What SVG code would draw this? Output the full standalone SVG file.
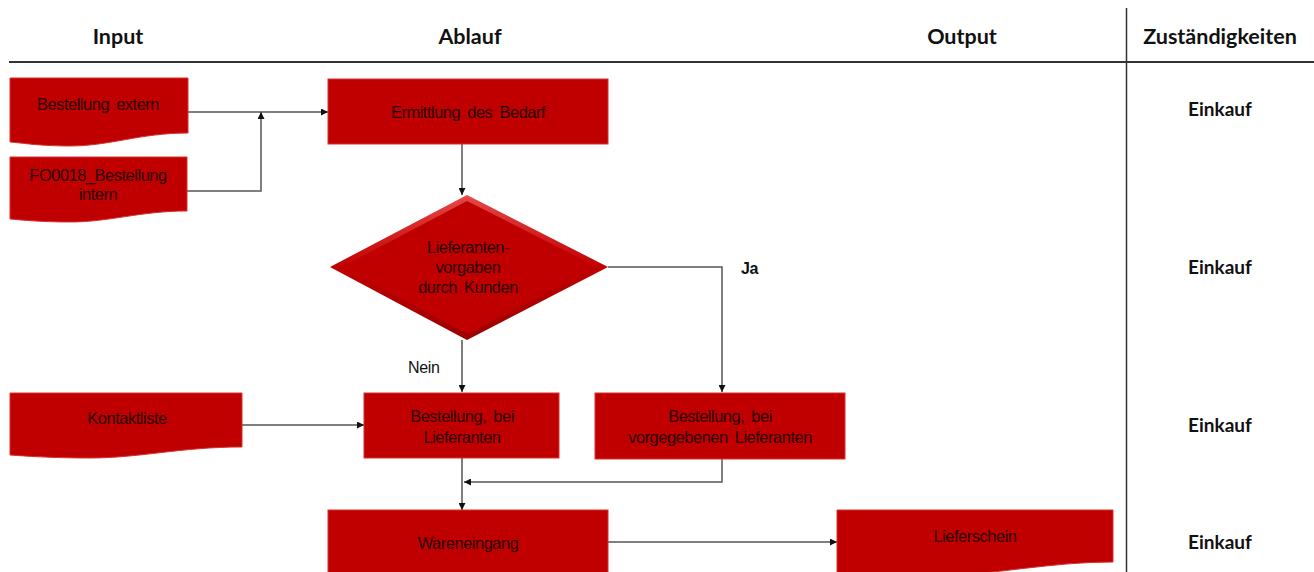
<svg xmlns="http://www.w3.org/2000/svg" width="1314" height="572" viewBox="0 0 1314 572">
  <defs>
    <style>
      .hdr { font-family: Lato, "Liberation Sans", sans-serif; font-weight: bold; font-size: 21.5px; fill: #111; text-anchor: middle; }
      .role { font-family: Lato, "Liberation Sans", sans-serif; font-weight: bold; font-size: 19px; fill: #111; text-anchor: middle; }
      .lbl { font-family: "Liberation Sans", Arial, sans-serif; font-size: 16.5px; fill: #2a0000; text-anchor: middle; letter-spacing: -0.5px; word-spacing: 3px; }
      .cl { font-family: "Liberation Sans", Arial, sans-serif; font-size: 16px; fill: #111; letter-spacing: -0.3px; }
      .box { fill: #C00000; stroke: #D83030; stroke-width: 1; }
      .doc { fill: #C00000; stroke: #D83030; stroke-width: 1; }
      .edge { fill: none; stroke: #555; stroke-width: 1.5; }
      .rule { stroke: #333; stroke-width: 2; fill: none; }
    </style>
    <marker id="arrow" viewBox="0 0 10 10" refX="10" refY="5" markerWidth="7" markerHeight="7" orient="auto" markerUnits="userSpaceOnUse">
      <path d="M0,0 L10,5 L0,10 Z" fill="#111"/>
    </marker>
    <linearGradient id="bevel" x1="0" y1="0" x2="0" y2="1">
      <stop offset="0" stop-color="#E84848"/>
      <stop offset="0.5" stop-color="#C00000"/>
      <stop offset="1" stop-color="#9A0000"/>
    </linearGradient>
  </defs>

  <!-- table frame -->
  <g id="frame">
    <line class="rule" x1="9" y1="62" x2="1314" y2="62"/>
    <line x1="1126.5" y1="8" x2="1126.5" y2="572" stroke="#333" stroke-width="1.5"/>
    <text class="hdr" x="118" y="44">Input</text>
    <text class="hdr" x="470" y="44">Ablauf</text>
    <text class="hdr" x="962" y="44">Output</text>
    <text class="hdr" x="1220" y="44">Zuständigkeiten</text>
  </g>

  <!-- responsibilities column -->
  <g id="roles">
    <text class="role" x="1220" y="116">Einkauf</text>
    <text class="role" x="1220" y="274">Einkauf</text>
    <text class="role" x="1220" y="432">Einkauf</text>
    <text class="role" x="1220" y="549">Einkauf</text>
  </g>

  <!-- connectors -->
  <g id="connectors">
    <line class="edge" x1="188" y1="112" x2="328" y2="112" marker-end="url(#arrow)"/>
    <polyline class="edge" points="187,191 261,191 261,112" marker-end="url(#arrow)"/>
    <line class="edge" x1="462" y1="144" x2="462" y2="195" marker-end="url(#arrow)"/>
    <polyline class="edge" points="608,267 722,267 722,392" marker-end="url(#arrow)"/>
    <line class="edge" x1="462" y1="340" x2="462" y2="392" marker-end="url(#arrow)"/>
    <line class="edge" x1="242" y1="425" x2="364" y2="425" marker-end="url(#arrow)"/>
    <polyline class="edge" points="722,459 722,482 464,482" marker-end="url(#arrow)"/>
    <line class="edge" x1="462" y1="458" x2="462" y2="510" marker-end="url(#arrow)"/>
    <line class="edge" x1="608" y1="542" x2="837" y2="542" marker-end="url(#arrow)"/>
    <text class="cl" x="741" y="274" font-weight="bold">Ja</text>
    <text class="cl" x="408" y="373">Nein</text>
  </g>

  <!-- input documents -->
  <g id="bestellung-extern">
    <path class="doc" d="M10,78 H188 V133 C140,133 110,146 70,146 C40,146 22,143 10,142 Z"/>
    <text class="lbl" x="98" y="110">Bestellung extern</text>
  </g>
  <g id="fo0018-bestellung-intern">
    <path class="doc" d="M10,157 H187 V211 C140,211 110,222 70,222 C40,222 22,220 10,219 Z"/>
    <text class="lbl" x="98" y="181">FO0018_Bestellung</text>
    <text class="lbl" x="98" y="200">intern</text>
  </g>
  <g id="kontaktliste">
    <path class="doc" d="M10,393 H242 V447 C180,447 140,458 90,458 C50,458 25,456 10,455 Z"/>
    <text class="lbl" x="127" y="424">Kontaktliste</text>
  </g>

  <!-- process steps -->
  <g id="ermittlung-des-bedarf">
    <rect class="box" x="328" y="79" width="280" height="65"/>
    <text class="lbl" x="468" y="118">Ermittlung des Bedarf</text>
  </g>
  <g id="lieferantenvorgaben">
    <polygon points="467,195 608,267 467,340 330,267" fill="url(#bevel)"/>
    <polygon points="467,201 597,267 467,334 342,267" fill="#C00000"/>
    <text class="lbl" x="468" y="253">Lieferanten-</text>
    <text class="lbl" x="468" y="273">vorgaben</text>
    <text class="lbl" x="468" y="293">durch Kunden</text>
  </g>
  <g id="bestellung-bei-lieferanten">
    <rect class="box" x="364" y="393" width="195" height="65"/>
    <text class="lbl" x="462" y="422">Bestellung, bei</text>
    <text class="lbl" x="462" y="443">Lieferanten</text>
  </g>
  <g id="bestellung-bei-vorgegebenen-lieferanten">
    <rect class="box" x="595" y="393" width="250" height="66"/>
    <text class="lbl" x="720" y="422">Bestellung, bei</text>
    <text class="lbl" x="720" y="443">vorgegebenen Lieferanten</text>
  </g>
  <g id="wareneingang">
    <rect class="box" x="328" y="510" width="280" height="70"/>
    <text class="lbl" x="468" y="549">Wareneingang</text>
  </g>

  <!-- output document -->
  <g id="lieferschein">
    <path class="doc" d="M837,510 H1113 V562 C1050,562 1000,574 940,576 L837,576 Z"/>
    <text class="lbl" x="975" y="542">Lieferschein</text>
  </g>
</svg>
